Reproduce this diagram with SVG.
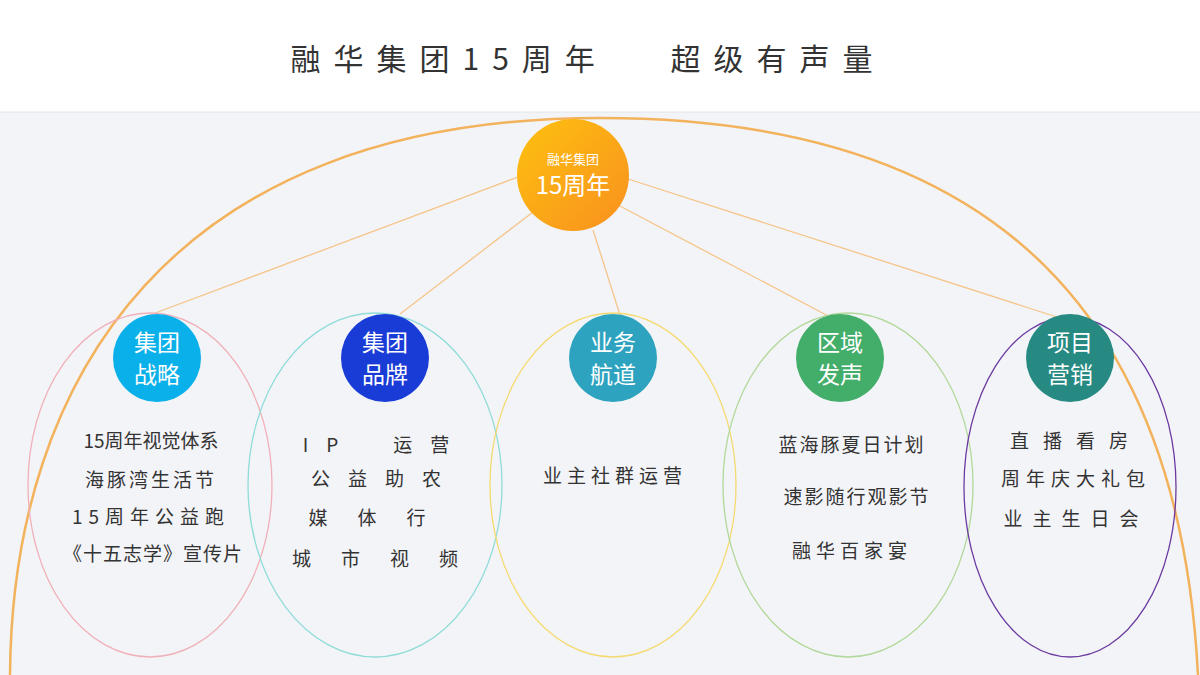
<svg xmlns="http://www.w3.org/2000/svg" width="1200" height="675" viewBox="0 0 1200 675">
<defs>
<linearGradient id="g" x1="0" y1="0" x2="1" y2="1"><stop offset="0" stop-color="#fec10f"/><stop offset="1" stop-color="#f8901f"/></linearGradient>
<style>
text{font-family:"Noto Sans CJK SC","Noto Sans",sans-serif;text-anchor:middle}
.n{fill:#fff;font-size:23px}
.t{fill:#333;font-size:19px}
.c{stroke:#f5c58a;stroke-width:1.3;fill:none}
.e{fill:none;stroke-width:1.3}
</style>
</defs>
<rect width="1200" height="675" fill="#f3f4f8"/>
<rect width="1200" height="112" fill="#fff"/>
<line x1="0" y1="112" x2="1200" y2="112" stroke="#e3e4e8"/>
<text x="588" y="70" font-size="30" fill="#333" letter-spacing="13">融华集团15周年　 超级有声量</text>
<path d="M10,675 C 12,380 170,118 600,118 C 1010,118 1180,330 1198,675" fill="none" stroke="#f3b25c" stroke-width="2.5"/>
<g id="connectors">
<line class="c" x1="518" y1="177" x2="150" y2="315"/>
<line class="c" x1="533" y1="212" x2="400" y2="314"/>
<line class="c" x1="593" y1="230" x2="620" y2="315"/>
<line class="c" x1="618" y1="205" x2="830" y2="317"/>
<line class="c" x1="625" y1="178" x2="1060" y2="318"/>
</g>
<g id="center"><circle cx="573" cy="175" r="56" fill="url(#g)"/>
<text x="573" y="164" fill="#fff" font-size="13">融华集团</text>
<text x="573" y="194" fill="#fff" font-size="24">15周年</text></g>
<g id="n1"><ellipse class="e" cx="150" cy="485" rx="122" ry="172" stroke="#f0b0b8"/>
<circle cx="157" cy="358" r="44" fill="#0ab0ea"/>
<text class="n" x="157" y="351">集团</text><text class="n" x="157" y="383">战略</text>
<text class="t" x="151" y="448" font-size="20">15周年视觉体系</text>
<text class="t" x="151" y="487" font-size="20" letter-spacing="3">海豚湾生活节</text>
<text class="t" x="151" y="524" letter-spacing="6">15周年公益跑</text>
<text class="t" x="153" y="561" letter-spacing="1">《十五志学》宣传片</text></g>
<g id="n2"><ellipse class="e" cx="375" cy="485" rx="127" ry="172" stroke="#8fdcd8"/>
<circle cx="385" cy="358" r="44" fill="#1a3cd6"/>
<text class="n" x="385" y="351">集团</text><text class="n" x="385" y="383">品牌</text>
<text class="t" x="385" y="452" letter-spacing="18">IP　运营</text>
<text class="t" x="385" y="486" letter-spacing="18">公益助农</text>
<text class="t" x="382" y="525" letter-spacing="30">媒体行</text>
<text class="t" x="390" y="566" letter-spacing="30">城市视频</text></g>
<g id="n3"><ellipse class="e" cx="613" cy="485" rx="123" ry="172" stroke="#f5da70"/>
<circle cx="613" cy="358" r="44" fill="#2ea3c0"/>
<text class="n" x="613" y="351">业务</text><text class="n" x="613" y="383">航道</text>
<text class="t" x="615" y="483" letter-spacing="5">业主社群运营</text></g>
<g id="n4"><ellipse class="e" cx="848" cy="485" rx="125" ry="172" stroke="#b2d89a"/>
<circle cx="840" cy="358" r="44" fill="#43ad6a"/>
<text class="n" x="840" y="351">区域</text><text class="n" x="840" y="383">发声</text>
<text class="t" x="852" y="452" letter-spacing="2">蓝海豚夏日计划</text>
<text class="t" x="857" y="504" letter-spacing="2">速影随行观影节</text>
<text class="t" x="852" y="558" letter-spacing="5">融华百家宴</text></g>
<g id="n5"><ellipse class="e" cx="1070" cy="487" rx="106" ry="170" stroke="#6b3aa0" stroke-width="1.6"/>
<circle cx="1070" cy="358" r="44" fill="#268a82"/>
<text class="n" x="1070" y="351">项目</text><text class="n" x="1070" y="383">营销</text>
<text class="t" x="1076" y="448" letter-spacing="14">直播看房</text>
<text class="t" x="1076" y="486" letter-spacing="6">周年庆大礼包</text>
<text class="t" x="1076" y="526" letter-spacing="10">业主生日会</text></g>
</svg>
